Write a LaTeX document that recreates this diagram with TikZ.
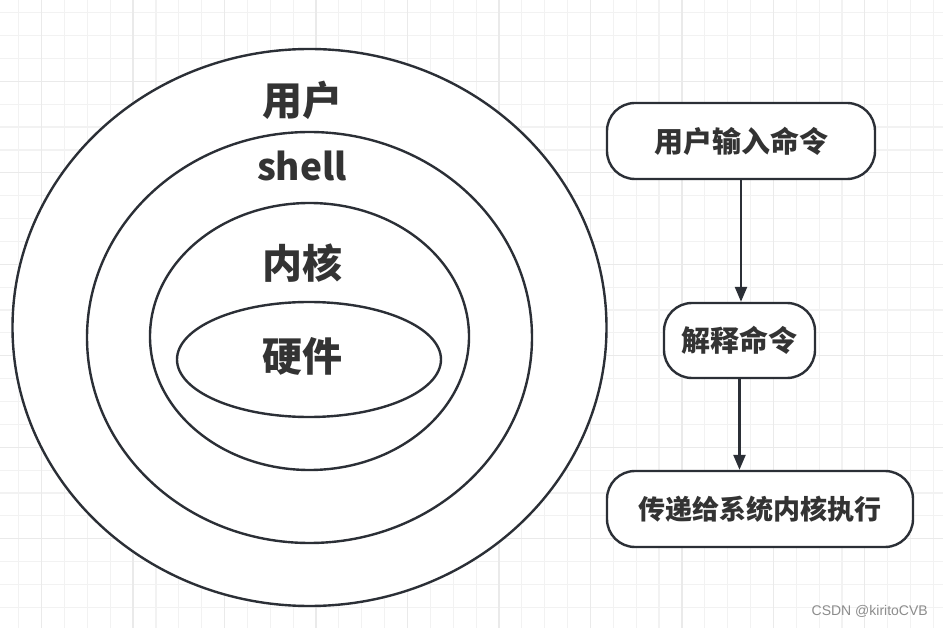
\documentclass[tikz,border=0pt]{standalone}
\usepackage{fontspec}
\usetikzlibrary{arrows.meta}
\newfontfamily\cjk{Noto Sans CJK SC}
\newfontfamily\wmfont{Liberation Sans}
\definecolor{lineDark}{HTML}{2B2F36}
\definecolor{textDark}{HTML}{333333}
\definecolor{gridMinor}{HTML}{F2F2F2}
\definecolor{gridMajor}{HTML}{EAEAEA}

\begin{document}
\begin{tikzpicture}[x=1pt,y=-1pt,
    ring/.style={draw=lineDark,line width=2.4pt,fill=white},
    layer/.style={text=textDark,inner sep=0pt,font=\cjk\bfseries\fontsize{40}{48}\selectfont},
    stepbox/.style={draw=lineDark,line width=2.4pt,fill=white,rounded corners=28pt,
      inner sep=0pt,minimum height=76pt,text=textDark,font=\cjk\bfseries\fontsize{29}{34}\selectfont},
    flow/.style={draw=lineDark,line width=2.4pt,-{Triangle[length=15pt,width=12pt]}}]
  \useasboundingbox (0,0) rectangle (943,628);
  \fill[white] (0,0) rectangle (943,628);
  % grid
  \foreach \k in {0,...,40}
    \draw[gridMinor,line width=1.2pt] ({18.7+22.87*\k},0) -- ++(0,628);
  \foreach \k in {0,...,26}
    \draw[gridMinor,line width=1.2pt] (0,{12.7+22.87*\k}) -- ++(943,0);
  \foreach \k in {1,5,...,37}
    \draw[gridMajor,line width=1.2pt] ({18.7+22.87*\k},0) -- ++(0,628);
  \foreach \k in {3,7,...,23}
    \draw[gridMajor,line width=1.2pt] (0,{12.7+22.87*\k}) -- ++(943,0);

  % layers
  \draw[ring] (309.5,327.5) ellipse [x radius=297, y radius=278.5];
  \draw[ring] (309.5,337.5) ellipse [x radius=222.5, y radius=205.5];
  \draw[ring] (309.5,336.5) ellipse [x radius=159.5, y radius=133.5];
  \draw[ring] (309,359.5) ellipse [x radius=132, y radius=57.5];
  \node[layer] (user) at (302,100) {用户};
  \node[layer,font=\cjk\bfseries\fontsize{37}{44}\selectfont] (shell) at (302,166) {shell};
  \node[layer] (kernel) at (302,263) {内核};
  \node[layer] (hw) at (302,356) {硬件};

  % flow
  \node[stepbox,minimum width=268pt] (input) at (741,141) {用户输入命令};
  \node[stepbox,minimum width=151pt,minimum height=75pt] (parse) at (739.5,340.5) {解释命令};
  \node[stepbox,minimum width=306pt,font=\cjk\bfseries\fontsize{27}{32}\selectfont] (exec) at (760,509) {传递给系统内核执行};
  \draw[flow] (input.south) -- (input.south |- parse.north);
  \draw[flow] (parse.south) -- (parse.south |- exec.north);

  \node[text=black!45,inner sep=0pt,font=\wmfont\fontsize{14}{16}\selectfont,anchor=east] (mark) at (928,611) {CSDN @kiritoCVB};
\end{tikzpicture}
\end{document}
